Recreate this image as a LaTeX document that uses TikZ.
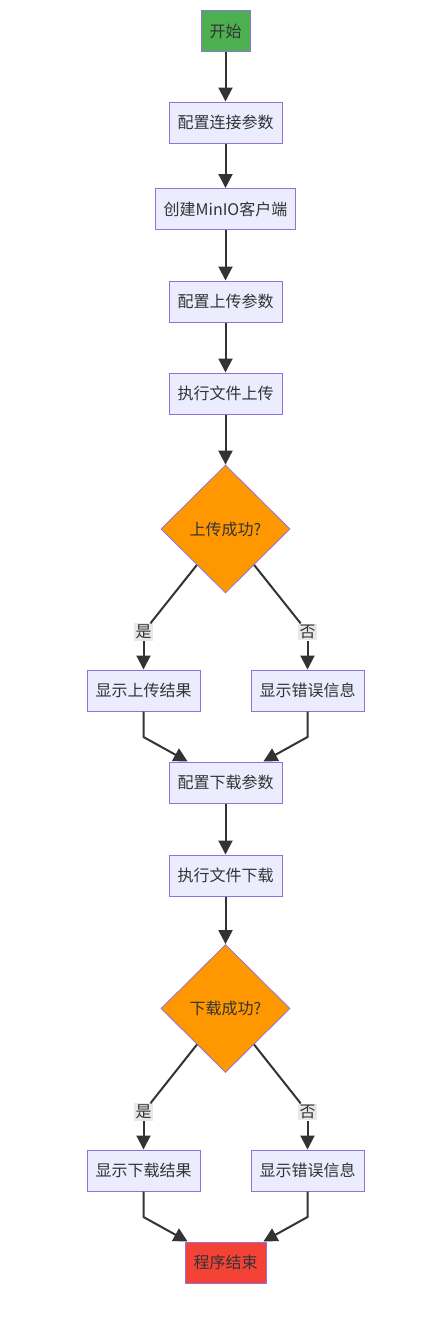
\documentclass[tikz,border=0pt]{standalone}
\usepackage{fontspec}
\setmainfont{Noto Sans CJK SC}
\usepackage{tikz}
\usetikzlibrary{arrows.meta, shapes.geometric}
\definecolor{txt}{HTML}{333333}
\definecolor{box}{HTML}{ECECFF}
\definecolor{rim}{HTML}{9370DB}
\definecolor{go}{HTML}{4CAF50}
\definecolor{stop}{HTML}{F44336}
\definecolor{ask}{HTML}{FF9800}
\definecolor{tag}{HTML}{E8E8E8}

\tikzset{
  proc/.style={draw=rim, fill=box, line width=1pt, text=txt, inner xsep=8.5pt,
    minimum height=41pt, font=\fontsize{16}{19}\selectfont},
  cond/.style={diamond, aspect=1, draw=rim, fill=ask, line width=0.8pt, text=txt,
    minimum width=129pt, minimum height=128pt, inner sep=0pt, font=\fontsize{16}{19}\selectfont},
  lbl/.style={fill=tag, text=txt, inner sep=1.5pt, font=\fontsize{16}{19}\selectfont},
  flow/.style={draw=txt, line width=2pt, -{Triangle[length=14pt,width=14pt]}},
  seg/.style={draw=txt, line width=2pt},
}

\begin{document}
\begin{tikzpicture}[x=1pt, y=-1pt]
\useasboundingbox (0,0) rectangle (432,1326);

% main column
\node[proc, fill=go] (start) at (225.5,31) {开始};
\node[proc] (conf) at (225.5,122.5) {配置连接参数};
\node[proc] (client) at (225.5,209) {创建MinIO客户端};
\node[proc] (upconf) at (225.5,301.5) {配置上传参数};
\node[proc] (upexec) at (225.5,393.5) {执行文件上传};
\node[cond] (upok) at (225.5,529) {上传成功?};

% upload branches
\node[lbl] (upyes) at (143.5,632) {是};
\node[lbl] (upno) at (307.5,632) {否};
\node[proc] (upshow) at (143.5,690.5) {显示上传结果};
\node[proc] (uperr) at (307.5,690.5) {显示错误信息};

\node[proc] (dnconf) at (225.5,782.5) {配置下载参数};
\node[proc] (dnexec) at (225.5,875.5) {执行文件下载};
\node[cond] (dnok) at (225.5,1008.5) {下载成功?};

% download branches
\node[lbl] (dnyes) at (143.5,1112) {是};
\node[lbl] (dnno) at (307.5,1112) {否};
\node[proc] (dnshow) at (143.5,1170.5) {显示下载结果};
\node[proc] (dnerr) at (307.5,1170.5) {显示错误信息};
\node[proc, fill=stop] (done) at (225.5,1262.5) {程序结束};

\coordinate (k1) at (143.5,737);
\coordinate (k2) at (307.5,737);
\coordinate (k3) at (143.5,1217);
\coordinate (k4) at (307.5,1217);

\draw[flow] (start) -- (conf);
\draw[flow] (conf) -- (client);
\draw[flow] (client) -- (upconf);
\draw[flow] (upconf) -- (upexec);
\draw[flow] (upexec) -- (upok);

\draw[seg] (upok) -- (upyes);
\draw[seg] (upok) -- (upno);
\draw[flow] (upyes) -- (upshow);
\draw[flow] (upno) -- (uperr);
\draw[flow] (upshow) -- (k1) -- (dnconf);
\draw[flow] (uperr) -- (k2) -- (dnconf);

\draw[flow] (dnconf) -- (dnexec);
\draw[flow] (dnexec) -- (dnok);

\draw[seg] (dnok) -- (dnyes);
\draw[seg] (dnok) -- (dnno);
\draw[flow] (dnyes) -- (dnshow);
\draw[flow] (dnno) -- (dnerr);
\draw[flow] (dnshow) -- (k3) -- (done);
\draw[flow] (dnerr) -- (k4) -- (done);

\end{tikzpicture}
\end{document}
